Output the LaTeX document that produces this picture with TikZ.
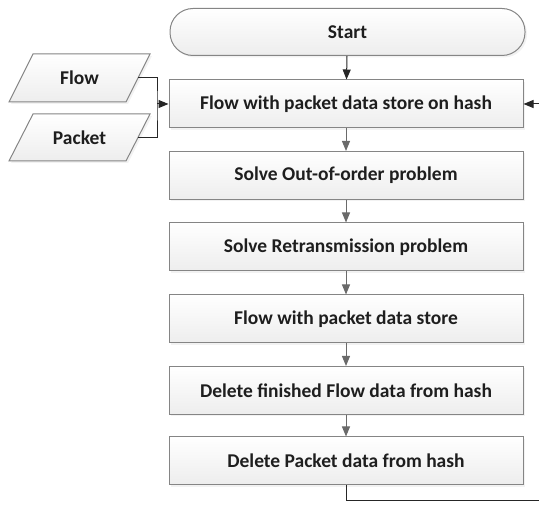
\documentclass[tikz,border=0pt]{standalone}
\usepackage{fontspec}
\setmainfont{Carlito}
\usetikzlibrary{shadows,arrows.meta}
\definecolor{boxline}{HTML}{858585}
\definecolor{txt}{HTML}{1E1E1E}
\definecolor{conngray}{HTML}{6A6A6A}
\tikzset{
  skin/.style={draw=boxline, line width=1pt, top color=white, bottom color=black!7,
    drop shadow={shadow xshift=2pt, shadow yshift=-2pt, fill=black!10}},
  lbl/.style={text=txt, font=\fontsize{19.5}{23}\selectfont\bfseries},
  base/.style={skin, lbl},
  procbox/.style={base, rectangle, minimum width=354pt, minimum height=48pt, inner sep=0pt},
  termbox/.style={base, rectangle, rounded corners=23pt, minimum width=355pt, minimum height=47pt, inner sep=0pt},
  iolabel/.style={lbl, rectangle, minimum width=117pt, minimum height=47pt, inner sep=0pt},
  garr/.style={draw=conngray, line width=1pt, -{Triangle[length=10pt,width=8pt]}, conngray},
  karr/.style={draw=black!85, line width=1pt, -{Triangle[length=10pt,width=8pt]}, black!85},
  kline/.style={draw=black!85, line width=1pt}
}
\begin{document}
\begin{tikzpicture}[x=1pt,y=-1pt]
\useasboundingbox (0,0) rectangle (539,505);
\node[termbox] (start) at (347.5,32) {Start};
\node[procbox] (b1) at (346,104) {Flow with packet data store on hash};
\node[procbox] (b2) at (346,175.5) {Solve Out-of-order problem};
\node[procbox] (b3) at (346,247) {Solve Retransmission problem};
\node[procbox] (b4) at (346,319) {Flow with packet data store};
\node[procbox] (b5) at (346,390.5) {Delete finished Flow data from hash};
\node[procbox] (b6) at (346,461) {Delete Packet data from hash};
% parallelogram inputs
\path[skin] (9,102) -- (126,102) -- (150,54) -- (33,54) -- cycle;
\path[skin] (9,161) -- (126,161) -- (150,114) -- (33,114) -- cycle;
\node[iolabel] (flow) at (79.5,78) {Flow};
\node[iolabel] (packet) at (79.5,137.5) {Packet};
\coordinate (jn) at (157,104);
\coordinate (rin) at (539,104);
\coordinate (lout) at (539,501);
\draw[karr] (start) -- (b1);
\draw[garr] (b1) -- (b2);
\draw[garr] (b2) -- (b3);
\draw[garr] (b3) -- (b4);
\draw[garr] (b4) -- (b5);
\draw[garr] (b5) -- (b6);
\draw[kline] (flow.east) -| (jn) |- (packet.east);
\draw[karr] (jn) -- (b1.west);
\draw[karr] (rin) -- (b1.east);
\draw[kline] (b6.south) |- (lout);
\end{tikzpicture}
\end{document}
